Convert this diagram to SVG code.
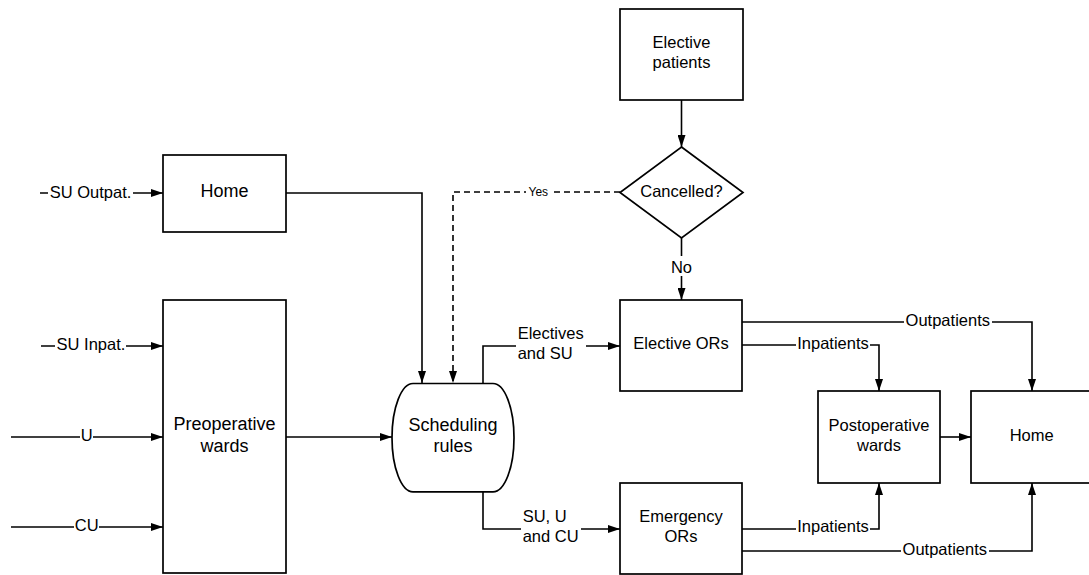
<svg xmlns="http://www.w3.org/2000/svg" width="1089" height="575" viewBox="0 0 1089 575">
<style>
.box{fill:#fff;stroke:#000;stroke-width:1.7}
.ln{fill:none;stroke:#000;stroke-width:1.6}
.dash{stroke-dasharray:6 4}
.t{font-family:"Liberation Sans",Arial,sans-serif;font-size:16.5px;fill:#000;text-anchor:middle}
.tl{font-size:18px}
.lb{font-family:"Liberation Sans",Arial,sans-serif;font-size:16.5px;fill:#000;text-anchor:middle}
.sm{font-size:12px}
.bg{fill:#fff}
</style>
<defs>
<marker id="ah" markerUnits="userSpaceOnUse" markerWidth="12" markerHeight="8" refX="12" refY="4" orient="auto">
<path d="M0,0 L12,4 L0,8 Z" fill="#000"/>
</marker>
</defs>
<rect width="1089" height="575" fill="#fff"/>
<g id="connectors">
<path class="ln" d="M40,193 H163" marker-end="url(#ah)"/>
<path class="ln" d="M41,346 H163" marker-end="url(#ah)"/>
<path class="ln" d="M11,437 H163" marker-end="url(#ah)"/>
<path class="ln" d="M11,527 H163" marker-end="url(#ah)"/>
<path class="ln" d="M286,437 H392" marker-end="url(#ah)"/>
<path class="ln" d="M286,193 H422 V383" marker-end="url(#ah)"/>
<path class="ln dash" d="M620,192 H453 V383" marker-end="url(#ah)"/>
<path class="ln" d="M681.5,100 V147" marker-end="url(#ah)"/>
<path class="ln" d="M681.5,238 V300" marker-end="url(#ah)"/>
<path class="ln" d="M483,383 V346 H620" marker-end="url(#ah)"/>
<path class="ln" d="M483,492 V529 H620" marker-end="url(#ah)"/>
<path class="ln" d="M742,322 H1032 V391" marker-end="url(#ah)"/>
<path class="ln" d="M742,345 H879 V391" marker-end="url(#ah)"/>
<path class="ln" d="M940,437 H971" marker-end="url(#ah)"/>
<path class="ln" d="M742,529 H879 V483" marker-end="url(#ah)"/>
<path class="ln" d="M742,551 H1032 V483" marker-end="url(#ah)"/>
<rect class="bg" x="48" y="184" width="85" height="17"/>
<text class="lb" x="90.5" y="197.5">SU Outpat.</text>
<rect class="bg" x="55" y="337" width="71" height="17"/>
<text class="lb" x="91" y="350">SU Inpat.</text>
<rect class="bg" x="80" y="428" width="13" height="17"/>
<text class="lb" x="86.7" y="441">U</text>
<rect class="bg" x="74" y="518" width="25" height="17"/>
<text class="lb" x="86.7" y="531">CU</text>
<rect class="bg" x="526" y="185" width="24" height="14"/>
<text class="lb sm" x="538.3" y="195.7">Yes</text>
<rect class="bg" x="671" y="256" width="21" height="20"/>
<text class="lb" x="681.5" y="272.7">No</text>
<rect class="bg" x="516" y="322" width="70" height="42"/>
<text class="lb" x="517.7" y="339.3" style="text-anchor:start">Electives</text>
<text class="lb" x="517.7" y="359.3" style="text-anchor:start">and SU</text>
<rect class="bg" x="521" y="505" width="60" height="42"/>
<text class="lb" x="522.7" y="522.3" style="text-anchor:start">SU, U</text>
<text class="lb" x="522.7" y="542.3" style="text-anchor:start">and CU</text>
<rect class="bg" x="904" y="313" width="88" height="17"/>
<text class="lb" x="947.8" y="326">Outpatients</text>
<rect class="bg" x="796" y="336" width="74" height="17"/>
<text class="lb" x="833" y="349.3">Inpatients</text>
<rect class="bg" x="796" y="519" width="74" height="17"/>
<text class="lb" x="833" y="532.3">Inpatients</text>
<rect class="bg" x="901" y="542" width="88" height="17"/>
<text class="lb" x="944.8" y="555">Outpatients</text>
</g>
<g id="home-left">
<rect class="box" x="163" y="155" width="123" height="77"/>
<text class="t tl" x="224.5" y="197.3">Home</text>
</g>
<g id="preoperative-wards">
<rect class="box" x="163" y="300" width="123" height="273"/>
<text class="t tl" x="224.5" y="430">Preoperative</text>
<text class="t tl" x="224.5" y="452.3">wards</text>
</g>
<g id="scheduling-rules">
<path class="box" d="M413,383.5 H493 A21,54.2 0 0 1 493,491.9 H413 A21,54.2 0 0 1 413,383.5 Z"/>
<text class="t tl" x="453" y="430.7">Scheduling</text>
<text class="t tl" x="453" y="452.3">rules</text>
</g>
<g id="elective-patients">
<rect class="box" x="620" y="9" width="123" height="91"/>
<text class="t" x="681.5" y="47.7">Elective</text>
<text class="t" x="681.5" y="68.3">patients</text>
</g>
<g id="cancelled">
<path class="box" d="M681.5,147 L743,192.5 L681.5,238 L620,192.5 Z"/>
<text class="t" x="681.5" y="197.3">Cancelled?</text>
</g>
<g id="elective-ors">
<rect class="box" x="620" y="300" width="122" height="91"/>
<text class="t" x="681" y="349.3">Elective ORs</text>
</g>
<g id="emergency-ors">
<rect class="box" x="620" y="483" width="122" height="91"/>
<text class="t" x="681" y="522.3">Emergency</text>
<text class="t" x="681" y="542.3">ORs</text>
</g>
<g id="postoperative-wards">
<rect class="box" x="818" y="391" width="122" height="92"/>
<text class="t" x="879" y="431">Postoperative</text>
<text class="t" x="879" y="451">wards</text>
</g>
<g id="home-right">
<rect class="box" x="971" y="391" width="125" height="92"/>
<text class="t" x="1031.7" y="441">Home</text>
</g>
</svg>
